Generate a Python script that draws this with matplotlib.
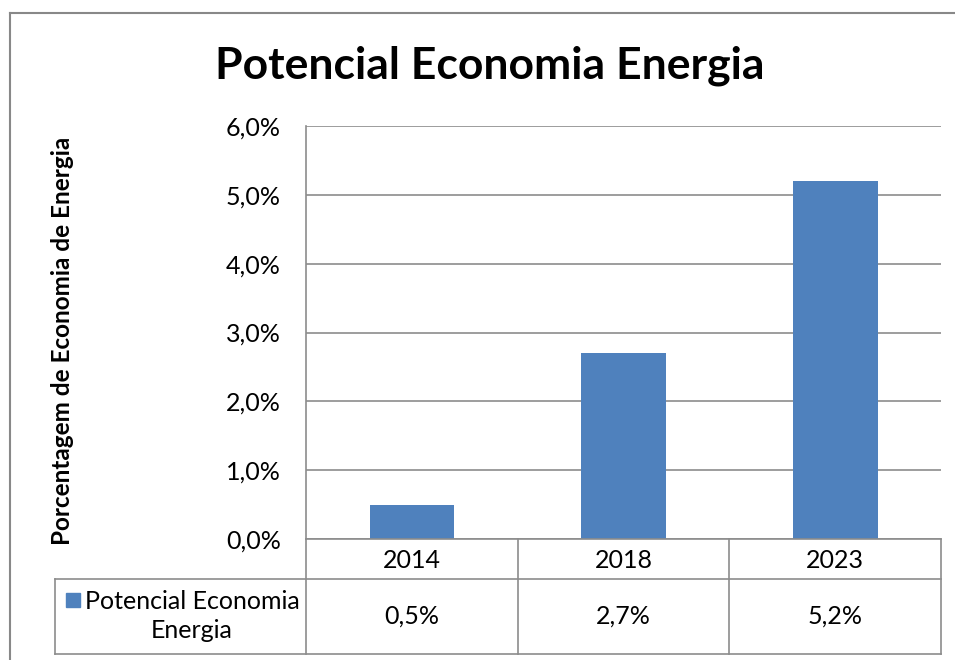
import numpy as np
import matplotlib
matplotlib.use('Agg')
import matplotlib.pyplot as plt
from matplotlib.lines import Line2D
from matplotlib.patches import Rectangle

plt.rcParams['font.family'] = ['Lato', 'DejaVu Sans']

years = ['2014', '2018', '2023']
savings = [0.5, 2.7, 5.2]          # % de economia
series_name = 'Potencial Economia\nEnergia'
yticks = [0, 1, 2, 3, 4, 5, 6]

BLUE = '#4F81BD'
GRID = '#8C8C8C'
FS = 18

W, H = 955, 660
fig = plt.figure(figsize=(W / 100, H / 100), dpi=100)

def fx(px):
    return px / W

def fy(py):
    return 1 - py / H

def pct(v):
    return f'{v:.1f}%'.replace('.', ',')

left, right, top, bottom = 306, 941, 126, 539
ax = fig.add_axes([fx(left), fy(bottom), fx(right) - fx(left), fy(top) - fy(bottom)])

x = np.arange(len(years))
ax.bar(x, savings, width=0.4, color=BLUE, zorder=3)
ax.set_xlim(-0.5, len(years) - 0.5)
ax.set_ylim(0, 6)
ax.set_yticks(yticks)
ax.set_yticklabels([pct(v) for v in yticks], fontsize=FS)
ax.tick_params(axis='y', length=0, pad=18)
ax.tick_params(axis='x', length=0, labelbottom=False)
ax.yaxis.grid(True, color=GRID, linewidth=1.2)
ax.set_axisbelow(True)
for side in ['top', 'right', 'bottom']:
    ax.spines[side].set_visible(False)
ax.spines['left'].set_color(GRID)
ax.spines['left'].set_linewidth(1.2)

# rotated axis title placed in figure pixels
fig.text(fx(62), fy(341), 'Porcentagem de Economia de Energia', fontsize=17.5,
         fontweight='bold', rotation=90, ha='center', va='center')

fig.text(fx(490), fy(66), 'Potencial Economia Energia', fontsize=32, fontweight='bold',
         ha='center', va='center')

# data table under the plot
row1, row2, row3 = 539, 579, 654
cols = [left + i * (right - left) / len(years) for i in range(len(years) + 1)]
tab_left = 55

def hline(y, x0, x1):
    fig.add_artist(Line2D([fx(x0), fx(x1)], [fy(y), fy(y)], color=GRID, lw=1.2))

def vline(xp, y0, y1):
    fig.add_artist(Line2D([fx(xp), fx(xp)], [fy(y0), fy(y1)], color=GRID, lw=1.2))

hline(row1, left, right)
hline(row2, tab_left, right)
hline(row3, tab_left, right)
vline(tab_left, row2, row3)
for c in cols:
    vline(c, row1, row3)

for i, (yr, val) in enumerate(zip(years, savings)):
    cx = (cols[i] + cols[i + 1]) / 2
    fig.text(fx(cx), fy(560), yr, fontsize=FS, ha='center', va='center')
    fig.text(fx(cx), fy(616), pct(val), fontsize=FS, ha='center', va='center')

fig.add_artist(Rectangle((fx(66), fy(607)), fx(14), 14 / H, color=BLUE))
fig.text(fx(192), fy(616), series_name, fontsize=FS, ha='center',
         va='center', multialignment='center', linespacing=1.3)

# chart frame
fig.add_artist(Line2D([fx(10), 1], [fy(13), fy(13)], color='#888888', lw=1.5))
fig.add_artist(Line2D([fx(10), fx(10)], [fy(13), 0], color='#888888', lw=1.5))

fig.savefig('out.png', dpi=100)
